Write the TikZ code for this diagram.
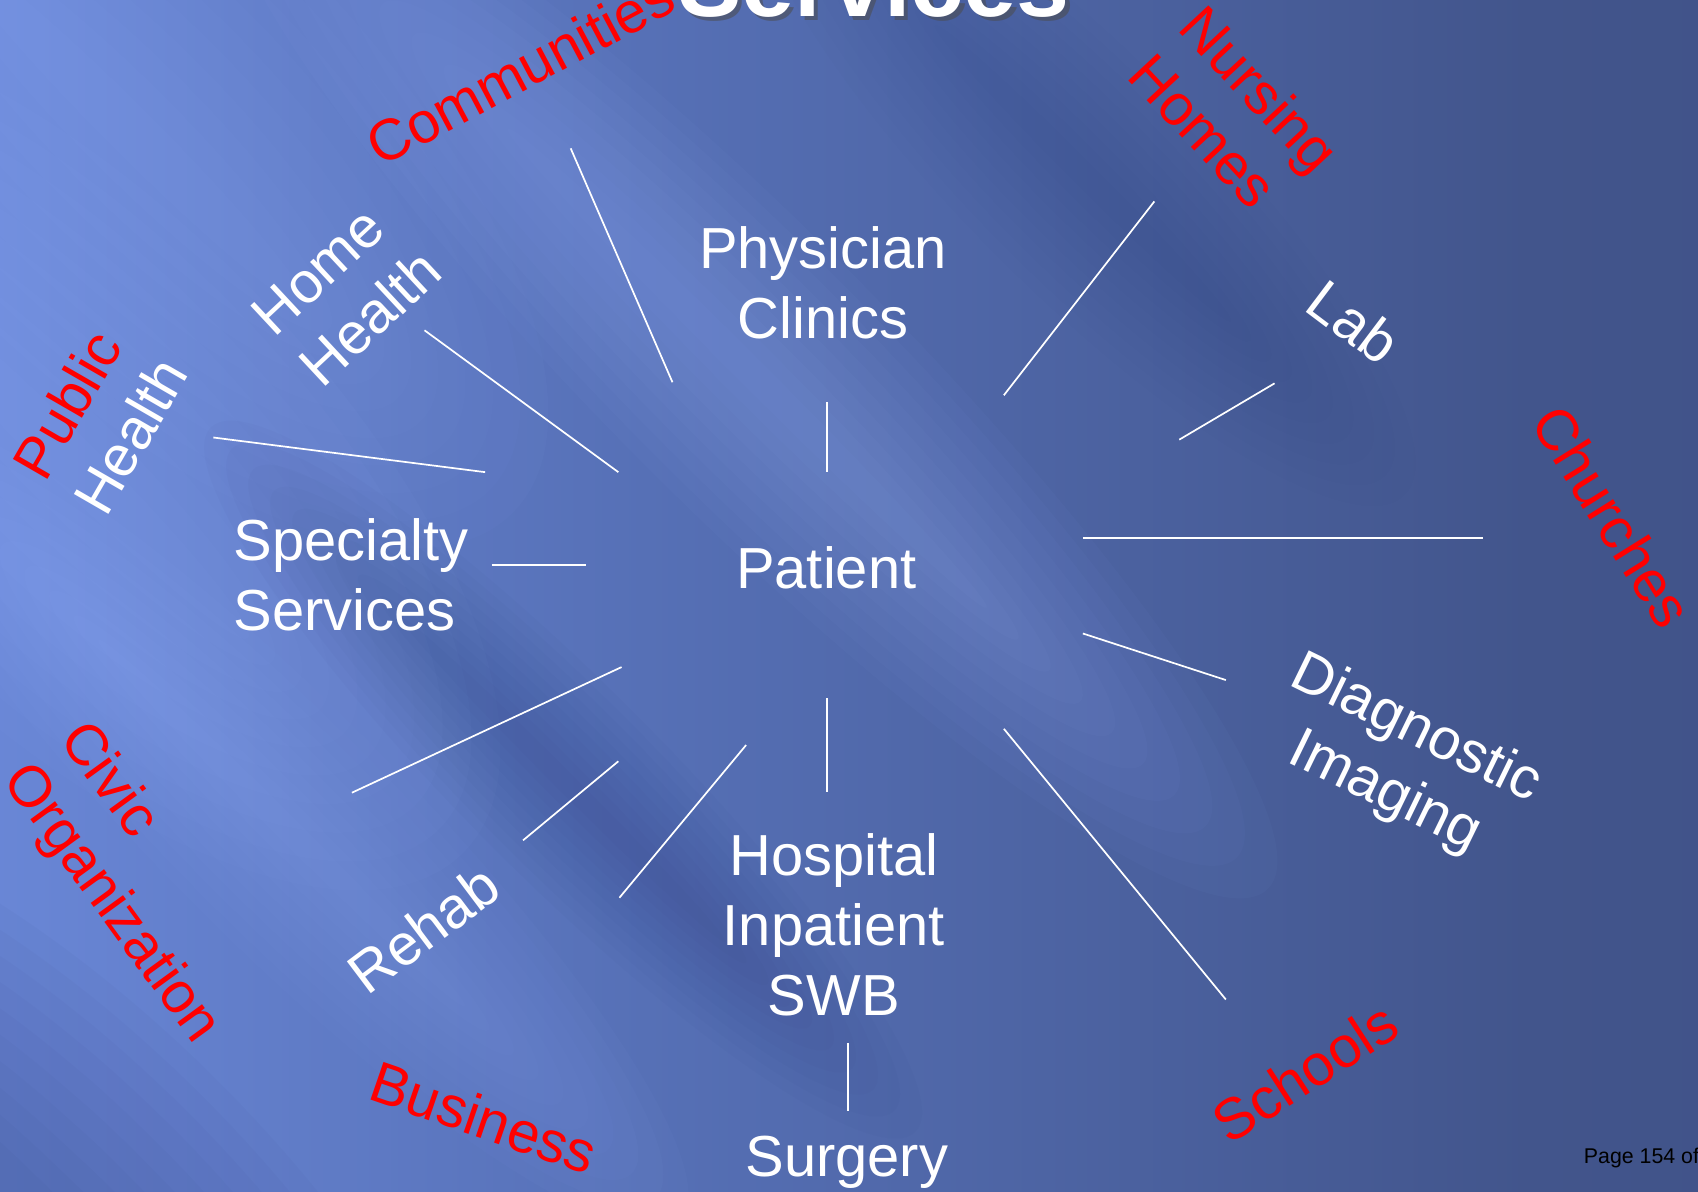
\documentclass[tikz,border=0pt]{standalone}
\usepackage{fontspec}
\setmainfont{Liberation Sans}
\usetikzlibrary{calc}
\definecolor{bgA}{HTML}{7E9EF4}
\definecolor{bgB}{HTML}{6E8CDE}
\definecolor{bgC}{HTML}{5670B6}
\definecolor{bgD}{HTML}{42558C}
\definecolor{bgE}{HTML}{3A4B7D}
\definecolor{glow}{HTML}{9AB4FF}
\definecolor{shadeblue}{HTML}{2E3F78}
\pgfdeclarehorizontalshading{bgshade}{100bp}{color(0bp)=(bgA); color(20bp)=(bgB); color(44bp)=(bgC); color(70bp)=(bgD); color(100bp)=(bgE)}
% soft elliptical streak: cx, cy, semi-major, semi-minor, colour, opacity per layer
\newcommand\bgglow[6]{%
  \foreach \k in {1,...,10}{%
    \pgfmathsetmacro\ra{#3*(0.4+0.06*\k)}%
    \pgfmathsetmacro\rb{#4*\k/10}%
    \fill[#5, opacity=#6, rotate around={-45:(#1,#2)}] (#1,#2) ellipse [x radius=\ra, y radius=\rb];
  }}
\begin{document}
\begin{tikzpicture}[x=0.01cm, y=-0.01cm,
  wtext/.style={text=white, font=\fontsize{15.2}{18.4}\selectfont, inner sep=0pt},
  rtext/.style={text=red, font=\fontsize{15.2}{18.4}\selectfont, inner sep=0pt},
  link/.style={draw=white, line width=0.45pt},
  titlefont/.style={font=\bfseries\fontsize{25}{30}\selectfont, inner sep=0pt, anchor=base}]
\useasboundingbox (0,0) rectangle (1568,1100);
\begin{scope}
  \clip (0,0) rectangle (1568,1100);
  \shade[shading=bgshade] (0,0) rectangle (1568,1100);
  \bgglow{690}{340}{680}{130}{glow}{0.035}
  \bgglow{260}{760}{520}{110}{glow}{0.03}
  \bgglow{60}{420}{520}{230}{glow}{0.035}
  \bgglow{120}{120}{500}{220}{glow}{0.03}
  \bgglow{520}{720}{460}{90}{shadeblue}{0.03}
  \bgglow{60}{1140}{520}{200}{shadeblue}{0.035}
  \bgglow{1000}{160}{420}{110}{shadeblue}{0.02}
\end{scope}

% title
\node[titlefont, text=black!70, opacity=0.55] (titleshadow) at (811,19) {Services};
\node[titlefont, text=white] (title) at (807,15) {Services};

% white labels
\node[wtext, align=center] (phys) at (760,261) {Physician\\Clinics};
\node[wtext, anchor=base] (patient) at (763,543) {Patient};
\node[wtext, align=left, anchor=west] (spec) at (215,531) {Specialty\\Services};
\node[wtext, align=center] (hosp) at (770,854) {Hospital\\Inpatient\\SWB};
\node[wtext, anchor=base] (surg) at (782,1086) {Surgery};
\node[wtext, align=left, rotate=43] (home) at (320,270) {Home\\Health};
\node[wtext, rotate=-37] (lab) at (1250,297) {Lab};
\node[wtext, align=center, rotate=-26] (diag) at (1293,703) {Diagnostic\\Imaging};
\node[wtext, rotate=37] (rehab) at (391,858) {Rehab};
\node[wtext, align=left, rotate=60] (pub) at (92,386) {\textcolor{red}{Public}\\Health};

% red labels
\node[rtext, rotate=28] (comm) at (480,65) {Communities};
\node[rtext, align=left, rotate=-47] (nurs) at (1140,104) {Nursing\\Homes};
\node[rtext, rotate=-58] (church) at (1489,477) {Churches};
\node[rtext, align=left, rotate=-54] (civic) at (128,816) {Civic\\Organization};
\node[rtext, rotate=-19] (bus) at (447,1032) {Business};
\node[rtext, rotate=33] (school) at (1205,990) {Schools};

% page number
\node[font=\fontsize{5.6}{6.7}\selectfont, anchor=base west, inner sep=0pt, text=black] (page) at (1462,1074) {Page 154 of};

% connector end points
\coordinate (c1a) at (527,137);  \coordinate (c1b) at (621,353);
\coordinate (c2a) at (392,305);  \coordinate (c2b) at (571,436);
\coordinate (c3a) at (197,404);  \coordinate (c3b) at (448,436);
\coordinate (c4a) at (454,522);  \coordinate (c4b) at (541,522);
\coordinate (c5a) at (764,371);  \coordinate (c5b) at (764,436);
\coordinate (c6a) at (1066,186); \coordinate (c6b) at (927,365);
\coordinate (c7a) at (1177,354); \coordinate (c7b) at (1089,406);
\coordinate (c8a) at (1000,497); \coordinate (c8b) at (1369,497);
\coordinate (c9a) at (1000,585); \coordinate (c9b) at (1132,628);
\coordinate (c10a) at (927,673); \coordinate (c10b) at (1132,923);
\coordinate (c11a) at (764,645); \coordinate (c11b) at (764,731);
\coordinate (c12a) at (783,963); \coordinate (c12b) at (783,1026);
\coordinate (c13a) at (689,688); \coordinate (c13b) at (572,829);
\coordinate (c14a) at (571,703); \coordinate (c14b) at (483,776);
\coordinate (c15a) at (574,616); \coordinate (c15b) at (325,732);
\foreach \i in {1,...,15}{\draw[link] (c\i a) -- (c\i b);}
\end{tikzpicture}
\end{document}
